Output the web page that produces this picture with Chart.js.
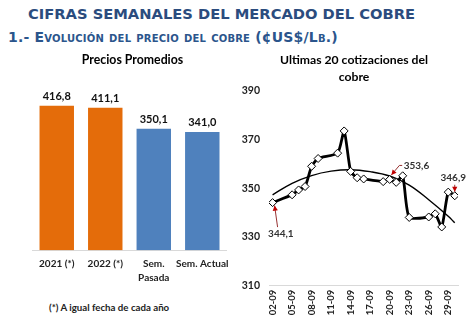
<!DOCTYPE html>
<html><head><meta charset="utf-8">
<script src="https://cdn.jsdelivr.net/npm/chart.js@4.4.0/dist/chart.umd.min.js"></script>
<style>
html,body{margin:0;padding:0;background:#fff;}
body{width:472px;height:321px;position:relative;overflow:hidden;}
#t1{position:absolute;left:28px;top:5.7px;font:bold 14.7px/15px "DejaVu Sans";color:#2B4C7E;white-space:nowrap;}
#t2{position:absolute;left:8px;top:29.8px;font:bold 14px/14px "DejaVu Sans";font-variant:small-caps;letter-spacing:0.2px;color:#2B558C;white-space:nowrap;}
#note{position:absolute;left:49px;top:300px;font:bold 9.7px/14px Lato;color:#222;white-space:nowrap;}
#c1{position:absolute;left:0;top:48px;}
#c2{position:absolute;left:236px;top:48px;}
</style></head>
<body>
<div id="t1">CIFRAS SEMANALES DEL MERCADO DEL COBRE</div>
<div id="t2">1.- Evolución del precio del cobre (¢US$/Lb.)</div>
<canvas id="c1" width="236" height="240"></canvas>
<canvas id="c2" width="236" height="273"></canvas>
<div id="note">(*) A igual fecha de cada año</div>
<script>
// ---- data: left chart ----
const barCategories = ['2021 (*)', '2022 (*)', ['Sem.', 'Pasada'], 'Sem. Actual'];
const barValues = [416.8, 411.1, 350.1, 341.0];

// ---- data: right chart ----
const quoteDays = [2, 5, 6, 7, 8, 9, 12, 13, 14, 15, 16, 19, 20, 21, 22, 23, 26, 27, 28, 29, 30];
const quoteValues = [344.1, 347.3, 349.3, 350.7, 359.0, 362.2, 364.4, 373.5, 356.9, 354.3, 353.8,
                     352.7, 353.6, 352.4, 355.1, 338.0, 338.2, 339.5, 334.1, 348.4, 346.9];
const trendDays = [2, 5, 8, 11, 14, 17, 20, 23, 26, 29, 30];
const trendValues = [347.3, 352.0, 355.2, 357.0, 357.6, 356.8, 355.0, 351.3, 345.3, 338.5, 335.8];
const xTickDays = [2, 5, 8, 11, 14, 17, 20, 23, 26, 29];
const yTickValues = [310, 330, 350, 370, 390];
const calloutIndices = [0, 12, 20];

const fmt = v => v.toFixed(1).replace('.', ',');
const FONT = 'Lato';

// bar value labels
const barLabelPlugin = {
  id: 'barLabels',
  afterDatasetsDraw(chart) {
    const ctx = chart.ctx;
    const meta = chart.getDatasetMeta(0);
    ctx.save();
    ctx.font = 'bold 11px ' + FONT;
    ctx.fillStyle = '#111';
    ctx.textAlign = 'center';
    ctx.textBaseline = 'alphabetic';
    meta.data.forEach((el, i) => {
      ctx.fillText(fmt(barValues[i]), el.x, el.y - 6);
    });
    ctx.restore();
  }
};

new Chart(document.getElementById('c1'), {
  type: 'bar',
  data: {
    labels: barCategories,
    datasets: [{
      data: barValues,
      backgroundColor: ['#E46C0A', '#E46C0A', '#4F81BD', '#4F81BD'],
      barPercentage: 0.71,
      categoryPercentage: 1.0
    }]
  },
  options: {
    responsive: false, animation: false, devicePixelRatio: 1,
    layout: { padding: { left: 32.5, right: 3.5, top: 0, bottom: 0 } },
    plugins: {
      legend: { display: false }, tooltip: { enabled: false },
      title: { display: true, text: 'Precios Promedios', color: '#000',
        font: { family: FONT, size: 12.3, weight: 'bold', lineHeight: 1.35 },
        padding: { top: 4, bottom: 18.6 } }
    },
    scales: {
      x: {
        grid: { display: false, drawTicks: false },
        border: { display: true, color: '#D9D9D9', width: 1 },
        ticks: { color: '#222', font: { family: FONT, size: 10, weight: 'bold', lineHeight: 1.35 },
          padding: 7, maxRotation: 0, autoSkip: false },
        afterFit: s => { s.height = 37.7; }
      },
      y: { display: false, min: 0, max: 470 }
    }
  },
  plugins: [barLabelPlugin]
});

// callouts for the line chart
const calloutStyle = {
  0:  { line: [[2, 3], [5, 24.5]], text: [8.3, 31.2], align: 'center' },
  12: { line: [[1.7, -4.5], [9.7, -14], [12.5, -14]], text: [14, -14], align: 'left' },
  20: { line: [[0, -4], [0, -11]], text: [-1.5, -18], align: 'center' }
};
const calloutPlugin = {
  id: 'callouts',
  afterDatasetsDraw(chart) {
    const ctx = chart.ctx;
    const meta = chart.getDatasetMeta(0);
    ctx.save();
    calloutIndices.forEach(idx => {
      const p = meta.data[idx];
      const st = calloutStyle[idx];
      ctx.strokeStyle = '#8B1A1A';
      ctx.lineWidth = 0.9;
      ctx.beginPath();
      st.line.forEach((o, k) => {
        if (k === 0) ctx.moveTo(p.x + o[0], p.y + o[1]); else ctx.lineTo(p.x + o[0], p.y + o[1]);
      });
      ctx.stroke();
      const a = st.line[0], b = st.line[1];
      const ax = p.x + a[0], ay = p.y + a[1];
      const ang = Math.atan2(a[1] - b[1], a[0] - b[0]);
      const L = 5, W = 2.6;
      ctx.fillStyle = '#C00000';
      ctx.beginPath();
      ctx.moveTo(ax, ay);
      ctx.lineTo(ax - L * Math.cos(ang) + W * Math.sin(ang), ay - L * Math.sin(ang) - W * Math.cos(ang));
      ctx.lineTo(ax - L * Math.cos(ang) - W * Math.sin(ang), ay - L * Math.sin(ang) + W * Math.cos(ang));
      ctx.closePath();
      ctx.fill();
      ctx.font = 'bold 10px ' + FONT;
      ctx.fillStyle = '#333';
      ctx.textAlign = st.align;
      ctx.textBaseline = 'middle';
      ctx.fillText(fmt(quoteValues[idx]), p.x + st.text[0], p.y + st.text[1]);
    });
    ctx.restore();
  }
};

new Chart(document.getElementById('c2'), {
  type: 'line',
  data: {
    datasets: [{
      data: quoteDays.map((d, i) => ({ x: d, y: quoteValues[i] })),
      borderColor: '#000', borderWidth: 2.8, tension: 0.2,
      pointStyle: 'rectRot', pointRadius: 4, pointBorderWidth: 1,
      pointBackgroundColor: '#fff', pointBorderColor: '#000',
      order: 0
    }, {
      data: trendDays.map((d, i) => ({ x: d, y: trendValues[i] })),
      borderColor: '#000', borderWidth: 1.4, tension: 0.4,
      pointRadius: 0, order: 1
    }]
  },
  options: {
    responsive: false, animation: false, devicePixelRatio: 1,
    layout: { padding: { left: 0, right: 0, top: 0, bottom: 0 } },
    plugins: {
      legend: { display: false }, tooltip: { enabled: false },
      title: { display: true, text: ['Ultimas 20 cotizaciones del', 'cobre'], color: '#000',
        font: { family: FONT, size: 12.2, weight: 'bold', lineHeight: 1.35 },
        padding: { top: 4, bottom: 5.8 } }
    },
    scales: {
      x: {
        type: 'linear', min: 1.45, max: 30.5,
        grid: { display: false, drawTicks: false },
        border: { display: true, color: '#D9D9D9', width: 1 },
        ticks: { minRotation: 90, maxRotation: 90, autoSkip: false, padding: 4, color: '#222',
          font: { family: FONT, size: 9.5, weight: 'bold' },
          callback: v => String(v).padStart(2, '0') + '-09' },
        afterBuildTicks: s => { s.ticks = xTickDays.map(v => ({ value: v })); },
        afterFit: s => { s.height = 35.3; }
      },
      y: {
        min: yTickValues[0], max: yTickValues[yTickValues.length - 1],
        grid: { display: false, drawTicks: false },
        border: { display: false },
        ticks: { stepSize: 20, padding: 9, color: '#222', font: { family: FONT, size: 10.5, weight: 'bold' } },
        afterBuildTicks: s => { s.ticks = yTickValues.map(v => ({ value: v })); },
        afterFit: s => { s.width = 33; }
      },
      yRight: {
        position: 'right', display: true,
        grid: { display: false, drawTicks: false },
        border: { display: false },
        ticks: { display: false },
        afterFit: s => { s.width = 14; }
      }
    }
  },
  plugins: [calloutPlugin]
});
</script>
</body></html>
